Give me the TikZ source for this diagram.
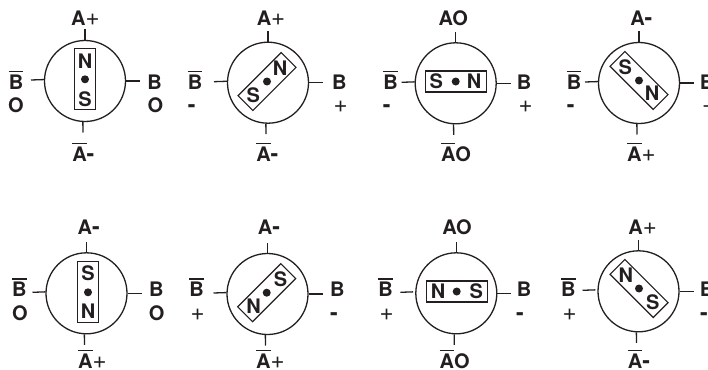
\documentclass[tikz,border=0pt]{standalone}
\usepackage{fontspec}
\setmainfont{TeX Gyre Heros}
\usetikzlibrary{calc}
\definecolor{ink}{HTML}{231F20}
\newcommand{\barred}[1]{\leavevmode\vbox{\hrule height 1.6pt \kern 2.2pt \hbox{#1}}}
\newcommand{\plusmark}{{\fontsize{24}{24}\selectfont\mdseries +}}
\newcommand{\minusmark}{{\fontsize{23}{24}\selectfont -}}
\tikzset{
  rotor/.style={circle, draw=ink, line width=1.3pt, minimum size=81pt, inner sep=0pt},
  magnet/.style={rectangle, draw=ink, line width=1.2pt, minimum width=61pt, minimum height=21pt, inner sep=0pt},
  pivot/.style={circle, fill=ink, minimum size=8pt, inner sep=0pt},
  pole/.style={text=ink, inner sep=0pt, font=\fontsize{20}{22}\selectfont\bfseries},
  lbl/.style={text=ink, inner sep=0pt, anchor=base, font=\fontsize{20}{22}\selectfont\bfseries},
  tick/.style={draw=ink, line width=1.3pt}
}
\begin{document}
\begin{tikzpicture}[x=1pt, y=-1pt]
    \useasboundingbox (0,0) rectangle (708,369);
    % rotors: centre, pivot, direction of N, extra gap of the left tick
    \foreach \i/\cx/\cy/\dx/\dy/\ang/\lgap in {
      1/85/81/85/79.3/-90/0, 2/268/82.7/267/81.5/-45/0,
      3/455.7/83.3/455.7/81.5/0/0, 4/639/83/639/80.5/45/0,
      5/86.5/293.3/88/292.3/90/0, 6/267.5/294/266.7/292.7/135/0,
      7/456.3/293.3/456.7/291.5/180/2, 8/638.5/291.3/639/288.5/-135/2} {
      \node[rotor] (rotor\i) at (\cx,\cy) {};
      \node[magnet, rotate=-\ang] (magnet\i) at (\dx,\dy) {};
      \node[pivot] (pivot\i) at (\dx,\dy) {};
      \node[pole] (north\i) at ($(pivot\i)+(\ang:18.5)$) {N};
      \node[pole] (south\i) at ($(pivot\i)+(\ang+180:19.5)$) {S};
      \coordinate (top\i) at (\cx,\cy-51.5);
      \coordinate (bot\i) at (\cx-2,\cy+51.5);
      \coordinate (left\i) at (\cx-54-\lgap,\cy-1);
      \coordinate (right\i) at (\cx+55,\cy);
      \draw[tick] (rotor\i.north) -- (top\i);
      \draw[tick] (rotor\i.267.2) -- (bot\i);
      \draw[tick] ($(rotor\i.178.6)+(-\lgap,0)$) -- (left\i);
      \draw[tick] (rotor\i.east) -- (right\i);
    }
    % labels
    \foreach \tx/\ty/\txt [count=\k] in {
      85.3/26/{A\plusmark}, 83.3/161/{\barred{A}\minusmark}, 16/89/{\barred{B}}, 16/112/{O}, 154.7/89/{B}, 155.3/112/{O},
      271/26/{A\plusmark}, 267.3/161/{\barred{A}\minusmark}, 195/89/{\barred{B}}, 191.7/112/{\minusmark}, 339.3/89/{B}, 340.7/112/{\plusmark},
      453.3/26/{AO}, 456/161/{\barred{A}O}, 390.7/89/{\barred{B}}, 386.7/112/{\minusmark}, 524/89/{B}, 525.7/112/{\plusmark},
      641.3/26/{A\minusmark}, 641.3/161/{\barred{A}\plusmark}, 574/89/{\barred{B}}, 570.7/112/{\minusmark}, 707/89/{B}, 709/112/{\plusmark},
      88.7/234/{A\minusmark}, 92.3/368/{\barred{A}\plusmark}, 19.3/296.7/{\barred{B}}, 20/320/{O}, 156.3/296.7/{B}, 156.7/320/{O},
      269/234/{A\minusmark}, 270.3/368/{\barred{A}\plusmark}, 196.7/296.7/{\barred{B}}, 197.7/320/{\plusmark}, 337.3/296.7/{B}, 334/320/{\minusmark},
      457/234/{AO}, 454.7/368/{\barred{A}O}, 385.7/296.7/{\barred{B}}, 386.7/320/{\plusmark}, 524/296.7/{B}, 520/320/{\minusmark},
      642.7/234/{A\plusmark}, 639/368/{\barred{A}\minusmark}, 568.3/296.7/{\barred{B}}, 569.7/320/{\plusmark}, 707/296.7/{B}, 704/320/{\minusmark}} {
      \node[lbl] (lab\k) at (\tx,\ty) {\txt};
    }
\end{tikzpicture}
\end{document}
